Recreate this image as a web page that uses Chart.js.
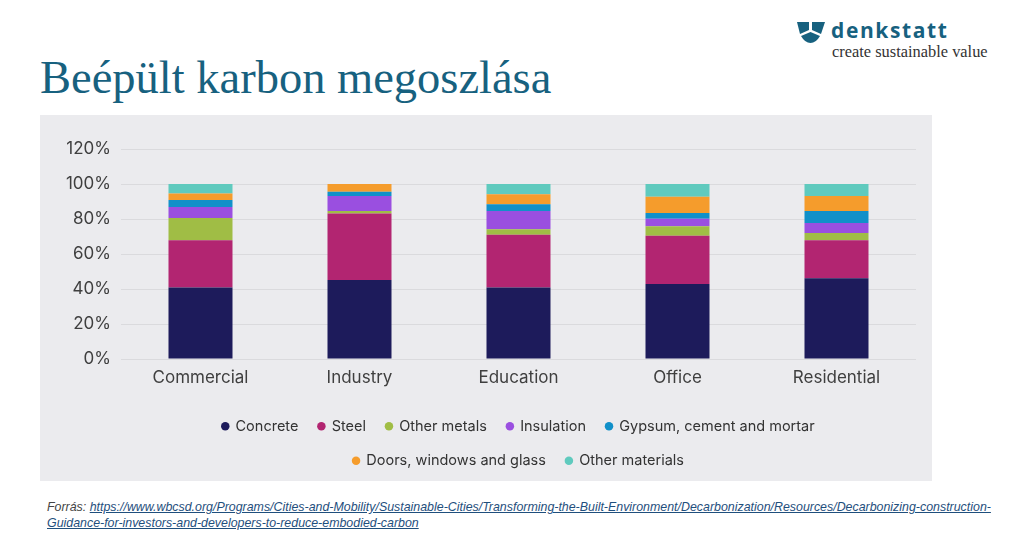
<!DOCTYPE html>
<html>
<head>
<meta charset="utf-8">
<script src="https://cdn.jsdelivr.net/npm/chart.js@4/dist/chart.umd.min.js"></script>
<style>
  body { margin: 0; background: #fff; width: 1020px; height: 543px; position: relative; overflow: hidden; }
  .title { position: absolute; left: 40px; top: 51px; font-family: "Liberation Serif", serif; font-size: 46.5px; color: #17617f; white-space: nowrap; }
  .logo { position: absolute; left: 796px; top: 16px; }
  .logo svg { position: absolute; left: 0; top: 4px; }
  .brand { position: absolute; left: 35px; top: 0; font-family: "Open Sans", sans-serif; font-weight: 700; font-size: 21px; letter-spacing: 1.6px; color: #17617f; white-space: nowrap; }
  .slogan { position: absolute; left: 36px; top: 26px; font-family: "Liberation Serif", serif; font-size: 16.4px; color: #333; white-space: nowrap; }
  .panel { position: absolute; left: 40px; top: 115px; width: 892px; height: 366px; background: #ebebee; }
  .source { position: absolute; left: 47px; top: 499px; font-family: "Liberation Sans Narrow", "Liberation Sans", sans-serif; font-style: italic; font-size: 12.4px; line-height: 16px; color: #444; white-space: nowrap; }
  .source a { color: #1f4f7d; text-decoration: underline; }
</style>
</head>
<body>
<div class="title">Beépült karbon megoszlása</div>

<div class="logo">
  <svg width="30" height="24" viewBox="0 0 30 24">
    <path d="M1 2 L13 2 L13 10 L4 14 Z" fill="#17617f"/>
    <path d="M16 2 L29 2 L25 14 L16 10 Z" fill="#17617f"/>
    <path d="M5 16 L14.5 12 L24 16 Q20 23 14.5 23 Q9 23 5 16 Z" fill="#17617f"/>
  </svg>
  <div class="brand">denkstatt</div>
  <div class="slogan">create sustainable value</div>
</div>

<div class="panel"><canvas id="chart"></canvas></div>

<div class="source">Forrás: <a>https://www.wbcsd.org/Programs/Cities-and-Mobility/Sustainable-Cities/Transforming-the-Built-Environment/Decarbonization/Resources/Decarbonizing-construction-<br>Guidance-for-investors-and-developers-to-reduce-embodied-carbon</a></div>

<script>
// kategóriák és értékek (%)
const categories = ['Commercial', 'Industry', 'Education', 'Office', 'Residential'];
const yTicks = ['0%', '20%', '40%', '60%', '80%', '100%', '120%'];

const concrete = [40.9, 45.1, 40.9, 42.8, 46.1];
const steel = [26.9, 38.0, 30.1, 27.7, 21.7];
const otherMetals = [12.8, 1.5, 3.1, 5.3, 4.2];
const insulation = [6.3, 8.5, 10.5, 4.4, 5.7];
const gypsum = [3.9, 2.5, 3.9, 3.3, 6.9];
const doors = [3.8, 4.4, 5.7, 9.2, 8.5];
const otherMaterials = [5.4, 0, 5.8, 7.3, 6.9];

const series = [
    { label: 'Concrete', data: concrete, color: '#1d1b5b' },
    { label: 'Steel', data: steel, color: '#b22571' },
    { label: 'Other metals', data: otherMetals, color: '#a0bd45' },
    { label: 'Insulation', data: insulation, color: '#9a4fe0' },
    { label: 'Gypsum, cement and mortar', data: gypsum, color: '#1190c9' },
    { label: 'Doors, windows and glass', data: doors, color: '#f59c2c' },
    { label: 'Other materials', data: otherMaterials, color: '#5fcabe' }
];

const ctx = document.getElementById('chart').getContext('2d');

new Chart(ctx, {
    type: 'bar',
    data: {
        labels: categories,
        datasets: series.map(s => ({
            label: s.label,
            data: s.data,
            backgroundColor: s.color,
            borderWidth: 0,
            categoryPercentage: 1,
            barPercentage: 0.4025
        }))
    },
    options: {
        responsive: true,
        maintainAspectRatio: false,
        animation: false,
        layout: {
            padding: { top: 34, left: 0, right: 16, bottom: 3 }
        },
        plugins: {
            tooltip: { enabled: false },
            legend: {
                position: 'bottom',
                fullSize: false,
                labels: {
                    usePointStyle: true,
                    pointStyle: 'circle',
                    boxWidth: 6,
                    boxHeight: 6,
                    padding: 20,
                    color: '#333',
                    font: { family: 'Inter', size: 14.5 }
                }
            }
        },
        scales: {
            x: {
                stacked: true,
                grid: { display: false },
                border: { display: false },
                ticks: {
                    padding: 1,
                    color: '#3f3f3f',
                    font: { family: 'Inter', size: 17 }
                },
                afterFit: (scale) => { scale.height = 40; } // hely a jelmagyarázat előtt
            },
            y: {
                stacked: true,
                min: 0,
                max: 120,
                grid: { color: '#dadadd', drawTicks: false },
                border: { display: false },
                ticks: {
                    stepSize: 20,
                    padding: 10,
                    color: '#3f3f3f',
                    font: { family: 'Inter', size: 17 },
                    callback: (v, i) => yTicks[i]
                },
                afterFit: (scale) => { scale.width = 81; }
            }
        }
    }
});
</script>
</body>
</html>
